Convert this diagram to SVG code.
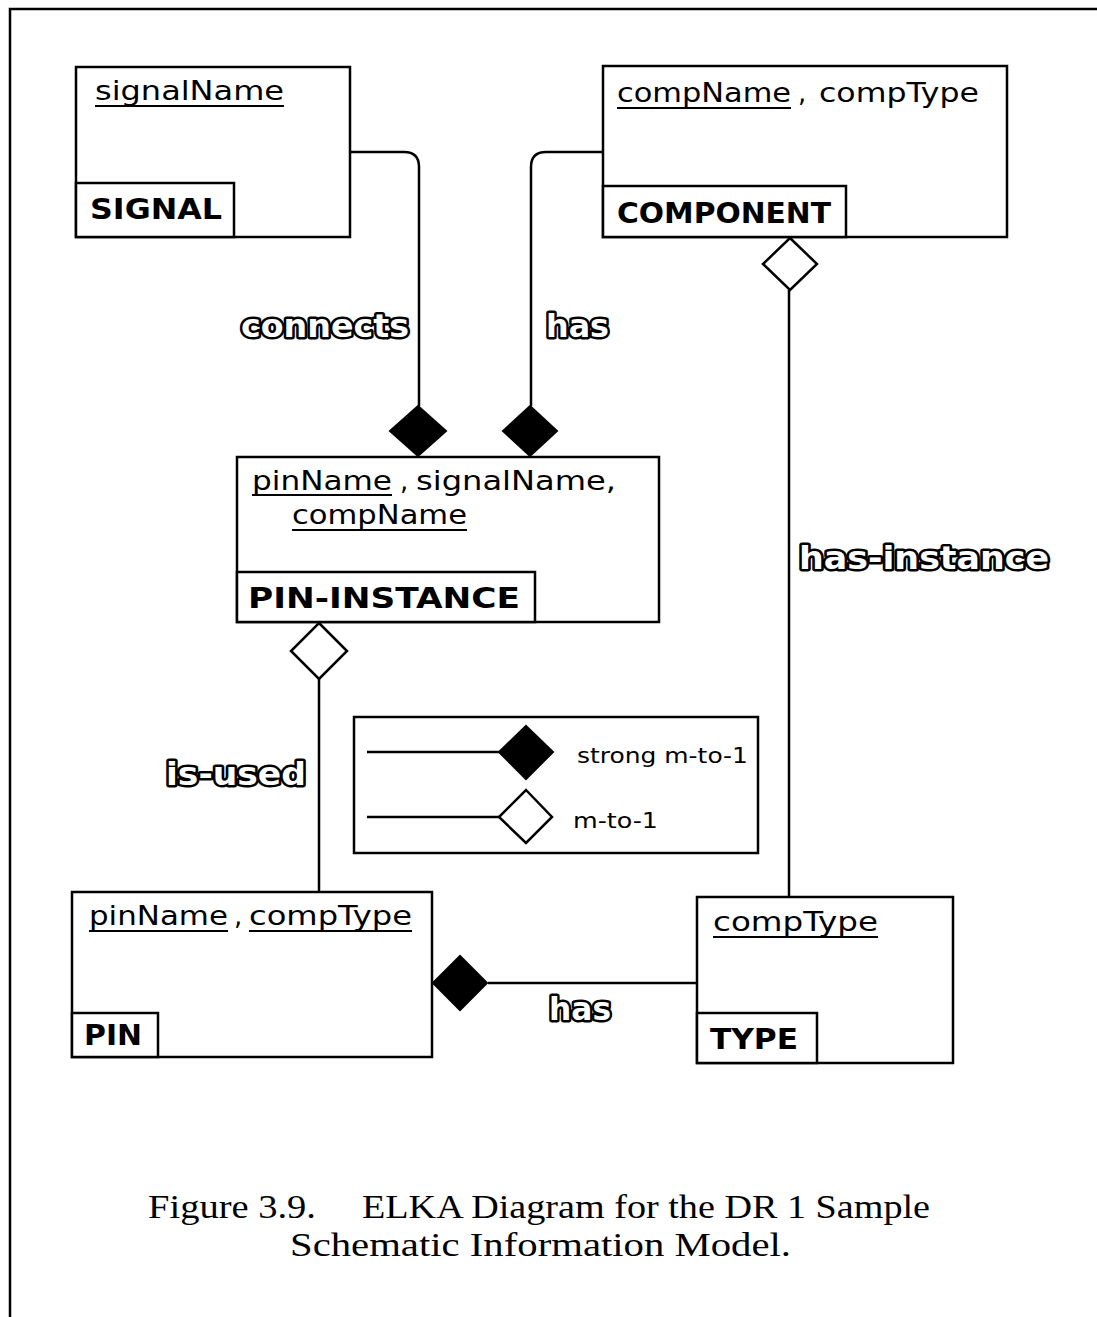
<svg xmlns="http://www.w3.org/2000/svg" width="1097" height="1317" viewBox="0 0 1097 1317">
<defs>
<style>
.box{fill:#fff;stroke:#000;stroke-width:2.5}
.ln{fill:none;stroke:#000;stroke-width:2.5}
.ul{stroke:#000;stroke-width:2}
.attr{font-family:"DejaVu Sans",sans-serif;font-size:26px;fill:#000}
.ename{font-family:"DejaVu Sans",sans-serif;font-weight:bold;font-size:28px;fill:#000}
.rel{font-family:"DejaVu Sans",sans-serif;font-weight:bold;font-size:32px;fill:#fff;stroke:#000;stroke-width:5;stroke-linejoin:round;paint-order:stroke}
.leg{font-family:"DejaVu Sans",sans-serif;font-size:21px;fill:#000}
.cap{font-family:"Liberation Serif",serif;font-size:33px;fill:#000}
.fd{fill:#000;stroke:#000;stroke-width:2}
.od{fill:#fff;stroke:#000;stroke-width:2.5}
</style>
</defs>
<rect width="1097" height="1317" fill="#fff"/>
<path d="M10,1317 V9 H1097" class="ln" stroke-width="3"/>

<g id="connectors">
<path class="ln" d="M350,152 H404 Q419,152 419,167 V406"/>
<polygon class="fd" points="418,406 446,431 418,456 390,431"/>
<path class="ln" d="M603,152 H546 Q531,152 531,167 V406"/>
<polygon class="fd" points="530,406 557,431 530,456 503,431"/>
<line class="ln" x1="789" y1="290" x2="789" y2="897"/>
<polygon class="od" points="790,238 817,264 790,290 763,264"/>
<line class="ln" x1="319" y1="679" x2="319" y2="892"/>
<polygon class="od" points="319,623 347,651 319,679 291,651"/>
<line class="ln" x1="488" y1="983" x2="697" y2="983"/>
<polygon class="fd" points="433,983 460,956 487,983 460,1010"/>
<text class="rel" x="241" y="337" textLength="168" lengthAdjust="spacingAndGlyphs">connects</text>
<text class="rel" x="546" y="337" textLength="63" lengthAdjust="spacingAndGlyphs">has</text>
<text class="rel" x="799" y="569" textLength="250" lengthAdjust="spacingAndGlyphs">has-instance</text>
<text class="rel" x="166" y="785" textLength="140" lengthAdjust="spacingAndGlyphs">is-used</text>
<text class="rel" x="549" y="1020" textLength="62" lengthAdjust="spacingAndGlyphs">has</text>
</g>

<g id="signal">
<rect class="box" x="76" y="67" width="274" height="170"/>
<rect class="box" x="76" y="183" width="158" height="54"/>
<text class="attr" x="95" y="100" textLength="189" lengthAdjust="spacingAndGlyphs">signalName</text>
<line class="ul" x1="95" y1="106" x2="284" y2="106"/>
<text class="ename" x="90" y="219" textLength="132" lengthAdjust="spacingAndGlyphs">SIGNAL</text>
</g>

<g id="component">
<rect class="box" x="603" y="66" width="404" height="171"/>
<rect class="box" x="603" y="186" width="243" height="51"/>
<text class="attr" x="617" y="102" textLength="174" lengthAdjust="spacingAndGlyphs">compName</text>
<line class="ul" x1="617" y1="108" x2="791" y2="108"/>
<text class="attr" x="798" y="102">,</text>
<text class="attr" x="819" y="102" textLength="160" lengthAdjust="spacingAndGlyphs">compType</text>
<text class="ename" x="617" y="223" textLength="214" lengthAdjust="spacingAndGlyphs">COMPONENT</text>
</g>

<g id="pin-instance">
<rect class="box" x="237" y="457" width="422" height="165"/>
<rect class="box" x="237" y="572" width="298" height="50"/>
<text class="attr" x="252" y="490" textLength="140" lengthAdjust="spacingAndGlyphs">pinName</text>
<line class="ul" x1="252" y1="495" x2="392" y2="495"/>
<text class="attr" x="400" y="490">,</text>
<text class="attr" x="416" y="490" textLength="200" lengthAdjust="spacingAndGlyphs">signalName,</text>
<text class="attr" x="292" y="524" textLength="175" lengthAdjust="spacingAndGlyphs">compName</text>
<line class="ul" x1="292" y1="530" x2="467" y2="530"/>
<text class="ename" x="248" y="608" textLength="272" lengthAdjust="spacingAndGlyphs">PIN-INSTANCE</text>
</g>

<g id="legend">
<rect class="box" x="354" y="717" width="404" height="136"/>
<line class="ln" x1="367" y1="752" x2="500" y2="752"/>
<polygon class="fd" points="526,726 553,752 526,779 499,752"/>
<text class="leg" x="577" y="763" textLength="171" lengthAdjust="spacingAndGlyphs">strong m-to-1</text>
<line class="ln" x1="367" y1="817" x2="499" y2="817"/>
<polygon class="od" points="526,790 552,817 526,843 499,817"/>
<text class="leg" x="573" y="828" textLength="85" lengthAdjust="spacingAndGlyphs">m-to-1</text>
</g>

<g id="pin">
<rect class="box" x="72" y="892" width="360" height="165"/>
<rect class="box" x="72" y="1013" width="86" height="44"/>
<text class="attr" x="89" y="925" textLength="139" lengthAdjust="spacingAndGlyphs">pinName</text>
<line class="ul" x1="89" y1="931" x2="228" y2="931"/>
<text class="attr" x="234" y="925">,</text>
<text class="attr" x="249" y="925" textLength="163" lengthAdjust="spacingAndGlyphs">compType</text>
<line class="ul" x1="249" y1="931" x2="412" y2="931"/>
<text class="ename" x="84" y="1045" textLength="58" lengthAdjust="spacingAndGlyphs">PIN</text>
</g>

<g id="type">
<rect class="box" x="697" y="897" width="256" height="166"/>
<rect class="box" x="697" y="1013" width="120" height="50"/>
<text class="attr" x="713" y="931" textLength="165" lengthAdjust="spacingAndGlyphs">compType</text>
<line class="ul" x1="713" y1="937" x2="878" y2="937"/>
<text class="ename" x="710" y="1049" textLength="88" lengthAdjust="spacingAndGlyphs">TYPE</text>
</g>

<g id="caption">
<text class="cap" x="148" y="1218" textLength="168" lengthAdjust="spacingAndGlyphs">Figure 3.9.</text>
<text class="cap" x="362" y="1218" textLength="568" lengthAdjust="spacingAndGlyphs">ELKA Diagram for the DR 1 Sample</text>
<text class="cap" x="290" y="1256" textLength="501" lengthAdjust="spacingAndGlyphs">Schematic Information Model.</text>
</g>
</svg>
